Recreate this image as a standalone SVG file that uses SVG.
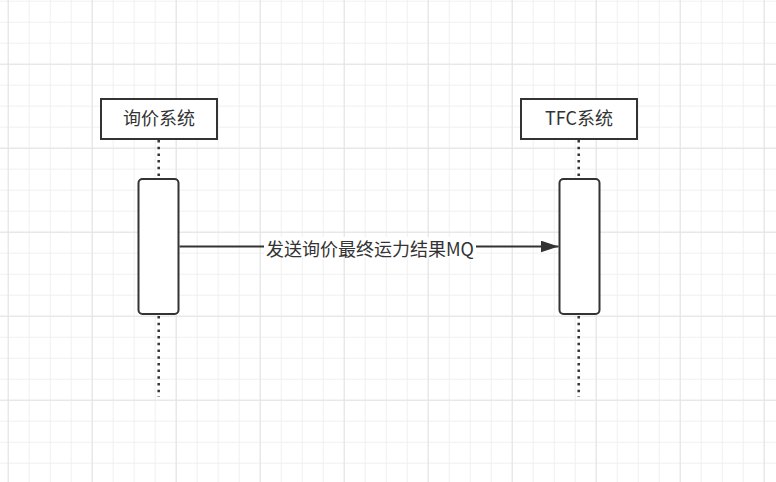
<svg xmlns="http://www.w3.org/2000/svg" width="776" height="482" viewBox="0 0 776 482">
  <defs>
    <pattern id="minor" x="7.7" y="0.7" width="21" height="21" patternUnits="userSpaceOnUse">
      <path d="M0.5 0V21M0 0.5H21" fill="none" stroke="#f0f0f0" stroke-width="1"/>
    </pattern>
    <pattern id="major" x="7.7" y="63.7" width="84" height="84" patternUnits="userSpaceOnUse">
      <path d="M0.5 0V84M0 0.5H84" fill="none" stroke="#e3e3e3" stroke-width="1"/>
    </pattern>
    <marker id="arrow" viewBox="0 0 18 12" refX="18" refY="6" markerWidth="18" markerHeight="12" markerUnits="userSpaceOnUse" orient="auto">
      <path d="M0 0L18 6L0 12Z" fill="#333333"/>
    </marker>
  </defs>
  <style>
    .box { fill: #ffffff; stroke: #333333; stroke-width: 2; }
    .life { fill: none; stroke: #333333; stroke-width: 2.5; stroke-dasharray: 2.5 4.2; }
    .lbl { font-family: "Noto Sans CJK SC", "Noto Sans", sans-serif; font-size: 18px; fill: #333333; text-anchor: middle; }
    .msg { fill: none; stroke: #333333; stroke-width: 2; }
  </style>
  <rect width="776" height="482" fill="#ffffff"/>
  <rect width="776" height="482" fill="url(#minor)"/>
  <rect width="776" height="482" fill="url(#major)"/>

  <g id="lifeline-xunjia">
    <rect class="box" x="101" y="99" width="116" height="40"/>
    <text class="lbl" x="159" y="125">询价系统</text>
    <line class="life" x1="158.7" y1="140" x2="158.7" y2="178"/>
    <line class="life" x1="158.7" y1="316" x2="158.7" y2="397"/>
    <rect class="box" x="138.5" y="179" width="40" height="135" rx="4" ry="4"/>
  </g>

  <g id="lifeline-tfc">
    <rect class="box" x="521" y="99" width="116" height="40"/>
    <text class="lbl" x="579" y="125">TFC系统</text>
    <line class="life" x1="578.7" y1="140" x2="578.7" y2="178"/>
    <line class="life" x1="578.7" y1="316" x2="578.7" y2="397"/>
    <rect class="box" x="559.5" y="179" width="40" height="135" rx="4" ry="4"/>
  </g>

  <g id="connectors">
    <line class="msg" x1="179.5" y1="246.5" x2="558.5" y2="246.5" marker-end="url(#arrow)"/>
    <rect x="264" y="237" width="212" height="20" fill="#ffffff"/>
    <text class="lbl" x="370" y="256">发送询价最终运力结果MQ</text>
  </g>
</svg>
